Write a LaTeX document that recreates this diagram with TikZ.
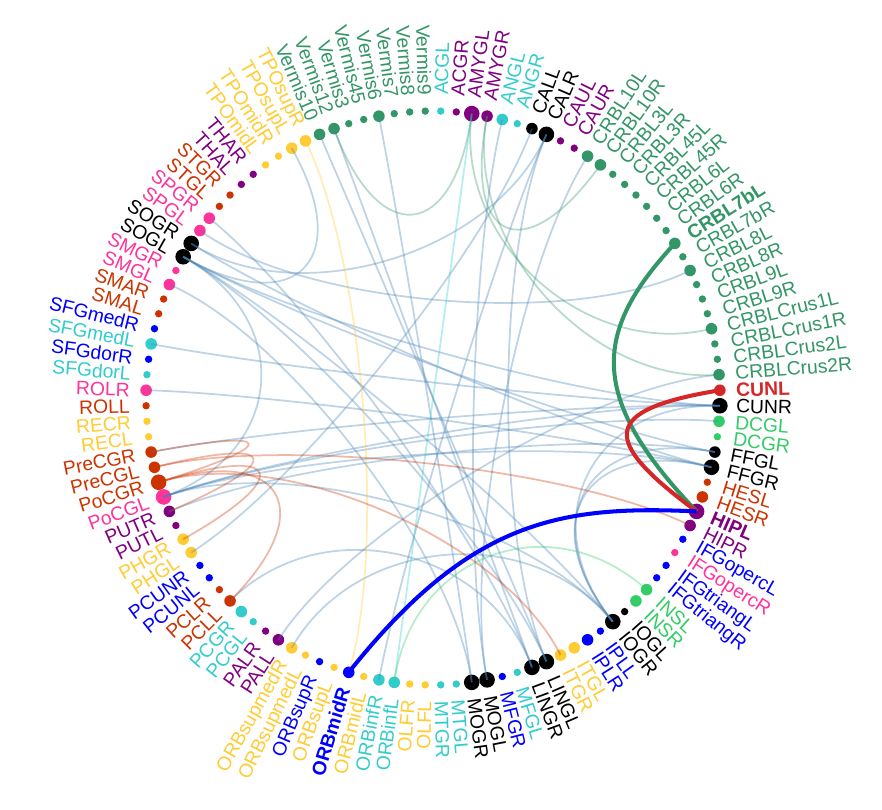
\documentclass[tikz,border=0pt]{standalone}
\usepackage{fontspec}
\setmainfont{Liberation Sans}
\usetikzlibrary{calc}

\definecolor{tq}{RGB}{51,204,204}
\definecolor{pu}{RGB}{128,0,128}
\definecolor{cg}{RGB}{51,150,102}
\definecolor{lg}{RGB}{51,204,102}
\definecolor{og}{RGB}{204,51,0}
\definecolor{pk}{RGB}{255,51,153}
\definecolor{gd}{RGB}{255,204,51}
\definecolor{bl}{RGB}{0,0,255}
\definecolor{hr}{RGB}{214,39,40}
\definecolor{eb}{RGB}{70,130,180}

\newcommand{\rr}{5.74}
\newcommand{\lr}{6.06}
\newcommand{\lnk}[3][eb]{\draw[ed=#1] (#2.center) .. controls ($(#2)!.45!(o)$) and ($(#3)!.45!(o)$) .. (#3.center);}

\begin{document}
\begin{tikzpicture}[
  dot/.style={circle,fill=#1,inner sep=0pt},
  ds/.style={minimum size=0.148cm},
  dm/.style={minimum size=0.232cm},
  dl/.style={minimum size=0.312cm},
  rl/.style={anchor=west,text=#1,inner sep=0pt,font=\fontsize{11}{13}\selectfont},
  ll/.style={anchor=east,text=#1,inner sep=0pt,font=\fontsize{11}{13}\selectfont},
  ed/.style={draw=#1,draw opacity=0.35,line width=1pt},
  hl/.style={draw=#1,line width=2.3pt}]
  \useasboundingbox (-8.66,-8.24) rectangle (8.98,7.96);
  \coordinate (o) at (0,0);
  % right half
  \node[dot=tq,ds] (ACGL) at (88.45:\rr) {}; \node[rl=tq,rotate=88.45] at (88.45:\lr) {ACGL};
  \node[dot=pu,ds] (ACGR) at (85.34:\rr) {}; \node[rl=pu,rotate=85.34] at (85.34:\lr) {ACGR};
  \node[dot=pu,dl] (AMYGL) at (82.24:\rr) {}; \node[rl=pu,rotate=82.24] at (82.24:\lr) {AMYGL};
  \node[dot=pu,dm] (AMYGR) at (79.14:\rr) {}; \node[rl=pu,rotate=79.14] at (79.14:\lr) {AMYGR};
  \node[dot=tq,dm] (ANGL) at (76.03:\rr) {}; \node[rl=tq,rotate=76.03] at (76.03:\lr) {ANGL};
  \node[dot=tq,ds] (ANGR) at (72.93:\rr) {}; \node[rl=tq,rotate=72.93] at (72.93:\lr) {ANGR};
  \node[dot=black,dm] (CALL) at (69.83:\rr) {}; \node[rl=black,rotate=69.83] at (69.83:\lr) {CALL};
  \node[dot=black,dl] (CALR) at (66.72:\rr) {}; \node[rl=black,rotate=66.72] at (66.72:\lr) {CALR};
  \node[dot=pu,ds] (CAUL) at (63.62:\rr) {}; \node[rl=pu,rotate=63.62] at (63.62:\lr) {CAUL};
  \node[dot=pu,ds] (CAUR) at (60.52:\rr) {}; \node[rl=pu,rotate=60.52] at (60.52:\lr) {CAUR};
  \node[dot=cg,dm] (CRBL10L) at (57.41:\rr) {}; \node[rl=cg,rotate=57.41] at (57.41:\lr) {CRBL10L};
  \node[dot=cg,dm] (CRBL10R) at (54.31:\rr) {}; \node[rl=cg,rotate=54.31] at (54.31:\lr) {CRBL10R};
  \node[dot=cg,ds] (CRBL3L) at (51.21:\rr) {}; \node[rl=cg,rotate=51.21] at (51.21:\lr) {CRBL3L};
  \node[dot=cg,ds] (CRBL3R) at (48.10:\rr) {}; \node[rl=cg,rotate=48.10] at (48.10:\lr) {CRBL3R};
  \node[dot=cg,ds] (CRBL45L) at (45.00:\rr) {}; \node[rl=cg,rotate=45.00] at (45.00:\lr) {CRBL45L};
  \node[dot=cg,ds] (CRBL45R) at (41.90:\rr) {}; \node[rl=cg,rotate=41.90] at (41.90:\lr) {CRBL45R};
  \node[dot=cg,ds] (CRBL6L) at (38.79:\rr) {}; \node[rl=cg,rotate=38.79] at (38.79:\lr) {CRBL6L};
  \node[dot=cg,ds] (CRBL6R) at (35.69:\rr) {}; \node[rl=cg,rotate=35.69] at (35.69:\lr) {CRBL6R};
  \node[dot=cg,dm] (CRBL7bL) at (32.59:\rr) {}; \node[rl=cg,rotate=32.59] at (32.59:\lr) {\bfseries CRBL7bL};
  \node[dot=cg,ds] (CRBL7bR) at (29.48:\rr) {}; \node[rl=cg,rotate=29.48] at (29.48:\lr) {CRBL7bR};
  \node[dot=cg,dm] (CRBL8L) at (26.38:\rr) {}; \node[rl=cg,rotate=26.38] at (26.38:\lr) {CRBL8L};
  \node[dot=cg,ds] (CRBL8R) at (23.28:\rr) {}; \node[rl=cg,rotate=23.28] at (23.28:\lr) {CRBL8R};
  \node[dot=cg,ds] (CRBL9L) at (20.17:\rr) {}; \node[rl=cg,rotate=20.17] at (20.17:\lr) {CRBL9L};
  \node[dot=cg,ds] (CRBL9R) at (17.07:\rr) {}; \node[rl=cg,rotate=17.07] at (17.07:\lr) {CRBL9R};
  \node[dot=cg,dm] (CRBLCrus1L) at (13.97:\rr) {}; \node[rl=cg,rotate=13.97] at (13.97:\lr) {CRBLCrus1L};
  \node[dot=cg,ds] (CRBLCrus1R) at (10.86:\rr) {}; \node[rl=cg,rotate=10.86] at (10.86:\lr) {CRBLCrus1R};
  \node[dot=cg,ds] (CRBLCrus2L) at (7.76:\rr) {}; \node[rl=cg,rotate=7.76] at (7.76:\lr) {CRBLCrus2L};
  \node[dot=cg,dm] (CRBLCrus2R) at (4.66:\rr) {}; \node[rl=cg,rotate=4.66] at (4.66:\lr) {CRBLCrus2R};
  \node[dot=hr,dm] (CUNL) at (1.55:\rr) {}; \node[rl=hr,rotate=1.55] at (1.55:\lr) {\bfseries CUNL};
  \node[dot=black,dl] (CUNR) at (-1.55:\rr) {}; \node[rl=black,rotate=-1.55] at (-1.55:\lr) {CUNR};
  \node[dot=lg,dm] (DCGL) at (-4.66:\rr) {}; \node[rl=lg,rotate=-4.66] at (-4.66:\lr) {DCGL};
  \node[dot=lg,ds] (DCGR) at (-7.76:\rr) {}; \node[rl=lg,rotate=-7.76] at (-7.76:\lr) {DCGR};
  \node[dot=black,dm] (FFGL) at (-10.86:\rr) {}; \node[rl=black,rotate=-10.86] at (-10.86:\lr) {FFGL};
  \node[dot=black,dl] (FFGR) at (-13.97:\rr) {}; \node[rl=black,rotate=-13.97] at (-13.97:\lr) {FFGR};
  \node[dot=og,ds] (HESL) at (-17.07:\rr) {}; \node[rl=og,rotate=-17.07] at (-17.07:\lr) {HESL};
  \node[dot=og,dm] (HESR) at (-20.17:\rr) {}; \node[rl=og,rotate=-20.17] at (-20.17:\lr) {HESR};
  \node[dot=pu,dl] (HIPL) at (-23.28:\rr) {}; \node[rl=pu,rotate=-23.28] at (-23.28:\lr) {\bfseries HIPL};
  \node[dot=pu,dm] (HIPR) at (-26.38:\rr) {}; \node[rl=pu,rotate=-26.38] at (-26.38:\lr) {HIPR};
  \node[dot=bl,ds] (IFGopercL) at (-29.48:\rr) {}; \node[rl=bl,rotate=-29.48] at (-29.48:\lr) {IFGopercL};
  \node[dot=pk,ds] (IFGopercR) at (-32.59:\rr) {}; \node[rl=pk,rotate=-32.59] at (-32.59:\lr) {IFGopercR};
  \node[dot=bl,ds] (IFGtriangL) at (-35.69:\rr) {}; \node[rl=bl,rotate=-35.69] at (-35.69:\lr) {IFGtriangL};
  \node[dot=bl,ds] (IFGtriangR) at (-38.79:\rr) {}; \node[rl=bl,rotate=-38.79] at (-38.79:\lr) {IFGtriangR};
  \node[dot=lg,dm] (INSL) at (-41.90:\rr) {}; \node[rl=lg,rotate=-41.90] at (-41.90:\lr) {INSL};
  \node[dot=lg,dm] (INSR) at (-45.00:\rr) {}; \node[rl=lg,rotate=-45.00] at (-45.00:\lr) {INSR};
  \node[dot=black,ds] (IOGL) at (-48.10:\rr) {}; \node[rl=black,rotate=-48.10] at (-48.10:\lr) {IOGL};
  \node[dot=black,dl] (IOGR) at (-51.21:\rr) {}; \node[rl=black,rotate=-51.21] at (-51.21:\lr) {IOGR};
  \node[dot=bl,ds] (IPLL) at (-54.31:\rr) {}; \node[rl=bl,rotate=-54.31] at (-54.31:\lr) {IPLL};
  \node[dot=bl,dm] (IPLR) at (-57.41:\rr) {}; \node[rl=bl,rotate=-57.41] at (-57.41:\lr) {IPLR};
  \node[dot=gd,dm] (ITGL) at (-60.52:\rr) {}; \node[rl=gd,rotate=-60.52] at (-60.52:\lr) {ITGL};
  \node[dot=gd,dm] (ITGR) at (-63.62:\rr) {}; \node[rl=gd,rotate=-63.62] at (-63.62:\lr) {ITGR};
  \node[dot=black,dl] (LINGL) at (-66.72:\rr) {}; \node[rl=black,rotate=-66.72] at (-66.72:\lr) {LINGL};
  \node[dot=black,dl] (LINGR) at (-69.83:\rr) {}; \node[rl=black,rotate=-69.83] at (-69.83:\lr) {LINGR};
  \node[dot=tq,ds] (MFGL) at (-72.93:\rr) {}; \node[rl=tq,rotate=-72.93] at (-72.93:\lr) {MFGL};
  \node[dot=bl,ds] (MFGR) at (-76.03:\rr) {}; \node[rl=bl,rotate=-76.03] at (-76.03:\lr) {MFGR};
  \node[dot=black,dl] (MOGL) at (-79.14:\rr) {}; \node[rl=black,rotate=-79.14] at (-79.14:\lr) {MOGL};
  \node[dot=black,dl] (MOGR) at (-82.24:\rr) {}; \node[rl=black,rotate=-82.24] at (-82.24:\lr) {MOGR};
  \node[dot=tq,ds] (MTGL) at (-85.34:\rr) {}; \node[rl=tq,rotate=-85.34] at (-85.34:\lr) {MTGL};
  \node[dot=tq,ds] (MTGR) at (-88.45:\rr) {}; \node[rl=tq,rotate=-88.45] at (-88.45:\lr) {MTGR};
  % left half
  \node[dot=gd,ds] (OLFL) at (-91.55:\rr) {}; \node[ll=gd,rotate=88.45] at (-91.55:\lr) {OLFL};
  \node[dot=gd,ds] (OLFR) at (-94.66:\rr) {}; \node[ll=gd,rotate=85.34] at (-94.66:\lr) {OLFR};
  \node[dot=tq,dm] (ORBinfL) at (-97.76:\rr) {}; \node[ll=tq,rotate=82.24] at (-97.76:\lr) {ORBinfL};
  \node[dot=tq,dm] (ORBinfR) at (-100.86:\rr) {}; \node[ll=tq,rotate=79.14] at (-100.86:\lr) {ORBinfR};
  \node[dot=gd,ds] (ORBmidL) at (-103.97:\rr) {}; \node[ll=gd,rotate=76.03] at (-103.97:\lr) {ORBmidL};
  \node[dot=bl,dm] (ORBmidR) at (-107.07:\rr) {}; \node[ll=bl,rotate=72.93] at (-107.07:\lr) {\bfseries ORBmidR};
  \node[dot=gd,ds] (ORBsupL) at (-110.17:\rr) {}; \node[ll=gd,rotate=69.83] at (-110.17:\lr) {ORBsupL};
  \node[dot=bl,ds] (ORBsupR) at (-113.28:\rr) {}; \node[ll=bl,rotate=66.72] at (-113.28:\lr) {ORBsupR};
  \node[dot=gd,ds] (ORBsupmedL) at (-116.38:\rr) {}; \node[ll=gd,rotate=63.62] at (-116.38:\lr) {ORBsupmedL};
  \node[dot=gd,dm] (ORBsupmedR) at (-119.48:\rr) {}; \node[ll=gd,rotate=60.52] at (-119.48:\lr) {ORBsupmedR};
  \node[dot=pu,dm] (PALL) at (-122.59:\rr) {}; \node[ll=pu,rotate=57.41] at (-122.59:\lr) {PALL};
  \node[dot=pu,ds] (PALR) at (-125.69:\rr) {}; \node[ll=pu,rotate=54.31] at (-125.69:\lr) {PALR};
  \node[dot=tq,ds] (PCGL) at (-128.79:\rr) {}; \node[ll=tq,rotate=51.21] at (-128.79:\lr) {PCGL};
  \node[dot=tq,dm] (PCGR) at (-131.90:\rr) {}; \node[ll=tq,rotate=48.10] at (-131.90:\lr) {PCGR};
  \node[dot=og,dm] (PCLL) at (-135.00:\rr) {}; \node[ll=og,rotate=45.00] at (-135.00:\lr) {PCLL};
  \node[dot=og,ds] (PCLR) at (-138.10:\rr) {}; \node[ll=og,rotate=41.90] at (-138.10:\lr) {PCLR};
  \node[dot=bl,ds] (PCUNL) at (-141.21:\rr) {}; \node[ll=bl,rotate=38.79] at (-141.21:\lr) {PCUNL};
  \node[dot=bl,ds] (PCUNR) at (-144.31:\rr) {}; \node[ll=bl,rotate=35.69] at (-144.31:\lr) {PCUNR};
  \node[dot=gd,dm] (PHGL) at (-147.41:\rr) {}; \node[ll=gd,rotate=32.59] at (-147.41:\lr) {PHGL};
  \node[dot=gd,dm] (PHGR) at (-150.52:\rr) {}; \node[ll=gd,rotate=29.48] at (-150.52:\lr) {PHGR};
  \node[dot=pu,ds] (PUTL) at (-153.62:\rr) {}; \node[ll=pu,rotate=26.38] at (-153.62:\lr) {PUTL};
  \node[dot=pu,dm] (PUTR) at (-156.72:\rr) {}; \node[ll=pu,rotate=23.28] at (-156.72:\lr) {PUTR};
  \node[dot=pk,dl] (PoCGL) at (-159.83:\rr) {}; \node[ll=pk,rotate=20.17] at (-159.83:\lr) {PoCGL};
  \node[dot=og,dl] (PoCGR) at (-162.93:\rr) {}; \node[ll=og,rotate=17.07] at (-162.93:\lr) {PoCGR};
  \node[dot=og,dm] (PreCGL) at (-166.03:\rr) {}; \node[ll=og,rotate=13.97] at (-166.03:\lr) {PreCGL};
  \node[dot=og,dm] (PreCGR) at (-169.14:\rr) {}; \node[ll=og,rotate=10.86] at (-169.14:\lr) {PreCGR};
  \node[dot=gd,ds] (RECL) at (-172.24:\rr) {}; \node[ll=gd,rotate=7.76] at (-172.24:\lr) {RECL};
  \node[dot=gd,ds] (RECR) at (-175.34:\rr) {}; \node[ll=gd,rotate=4.66] at (-175.34:\lr) {RECR};
  \node[dot=og,ds] (ROLL) at (-178.45:\rr) {}; \node[ll=og,rotate=1.55] at (-178.45:\lr) {ROLL};
  \node[dot=pk,dm] (ROLR) at (-181.55:\rr) {}; \node[ll=pk,rotate=-1.55] at (-181.55:\lr) {ROLR};
  \node[dot=tq,ds] (SFGdorL) at (-184.66:\rr) {}; \node[ll=tq,rotate=-4.66] at (-184.66:\lr) {SFGdorL};
  \node[dot=bl,ds] (SFGdorR) at (-187.76:\rr) {}; \node[ll=bl,rotate=-7.76] at (-187.76:\lr) {SFGdorR};
  \node[dot=tq,dm] (SFGmedL) at (-190.86:\rr) {}; \node[ll=tq,rotate=-10.86] at (-190.86:\lr) {SFGmedL};
  \node[dot=bl,ds] (SFGmedR) at (-193.97:\rr) {}; \node[ll=bl,rotate=-13.97] at (-193.97:\lr) {SFGmedR};
  \node[dot=og,ds] (SMAL) at (-197.07:\rr) {}; \node[ll=og,rotate=-17.07] at (-197.07:\lr) {SMAL};
  \node[dot=og,ds] (SMAR) at (-200.17:\rr) {}; \node[ll=og,rotate=-20.17] at (-200.17:\lr) {SMAR};
  \node[dot=pk,dm] (SMGL) at (-203.28:\rr) {}; \node[ll=pk,rotate=-23.28] at (-203.28:\lr) {SMGL};
  \node[dot=pk,ds] (SMGR) at (-206.38:\rr) {}; \node[ll=pk,rotate=-26.38] at (-206.38:\lr) {SMGR};
  \node[dot=black,dl] (SOGL) at (-209.48:\rr) {}; \node[ll=black,rotate=-29.48] at (-209.48:\lr) {SOGL};
  \node[dot=black,dl] (SOGR) at (-212.59:\rr) {}; \node[ll=black,rotate=-32.59] at (-212.59:\lr) {SOGR};
  \node[dot=pk,dm] (SPGL) at (-215.69:\rr) {}; \node[ll=pk,rotate=-35.69] at (-215.69:\lr) {SPGL};
  \node[dot=pk,dm] (SPGR) at (-218.79:\rr) {}; \node[ll=pk,rotate=-38.79] at (-218.79:\lr) {SPGR};
  \node[dot=og,ds] (STGL) at (-221.90:\rr) {}; \node[ll=og,rotate=-41.90] at (-221.90:\lr) {STGL};
  \node[dot=og,ds] (STGR) at (-225.00:\rr) {}; \node[ll=og,rotate=-45.00] at (-225.00:\lr) {STGR};
  \node[dot=pu,ds] (THAL) at (-228.10:\rr) {}; \node[ll=pu,rotate=-48.10] at (-228.10:\lr) {THAL};
  \node[dot=pu,ds] (THAR) at (-231.21:\rr) {}; \node[ll=pu,rotate=-51.21] at (-231.21:\lr) {THAR};
  \node[dot=gd,ds] (TPOmidL) at (-234.31:\rr) {}; \node[ll=gd,rotate=-54.31] at (-234.31:\lr) {TPOmidL};
  \node[dot=gd,ds] (TPOmidR) at (-237.41:\rr) {}; \node[ll=gd,rotate=-57.41] at (-237.41:\lr) {TPOmidR};
  \node[dot=gd,dm] (TPOsupL) at (-240.52:\rr) {}; \node[ll=gd,rotate=-60.52] at (-240.52:\lr) {TPOsupL};
  \node[dot=gd,dm] (TPOsupR) at (-243.62:\rr) {}; \node[ll=gd,rotate=-63.62] at (-243.62:\lr) {TPOsupR};
  \node[dot=cg,dm] (Vermis10) at (-246.72:\rr) {}; \node[ll=cg,rotate=-66.72] at (-246.72:\lr) {Vermis10};
  \node[dot=cg,dm] (Vermis12) at (-249.83:\rr) {}; \node[ll=cg,rotate=-69.83] at (-249.83:\lr) {Vermis12};
  \node[dot=cg,ds] (Vermis3) at (-252.93:\rr) {}; \node[ll=cg,rotate=-72.93] at (-252.93:\lr) {Vermis3};
  \node[dot=cg,ds] (Vermis45) at (-256.03:\rr) {}; \node[ll=cg,rotate=-76.03] at (-256.03:\lr) {Vermis45};
  \node[dot=cg,dm] (Vermis6) at (-259.14:\rr) {}; \node[ll=cg,rotate=-79.14] at (-259.14:\lr) {Vermis6};
  \node[dot=cg,ds] (Vermis7) at (-262.24:\rr) {}; \node[ll=cg,rotate=-82.24] at (-262.24:\lr) {Vermis7};
  \node[dot=cg,ds] (Vermis8) at (-265.34:\rr) {}; \node[ll=cg,rotate=-85.34] at (-265.34:\lr) {Vermis8};
  \node[dot=cg,ds] (Vermis9) at (-268.45:\rr) {}; \node[ll=cg,rotate=-88.45] at (-268.45:\lr) {Vermis9};
  % links
  \lnk{TPOsupL}{SOGL}
  \lnk{SOGR}{CALR}
  \lnk{SPGL}{CRBL8L}
  \lnk{SOGL}{CUNR}
  \lnk{SOGL}{FFGL}
  \lnk{SOGL}{IOGR}
  \lnk{SOGL}{LINGL}
  \lnk{SOGL}{PoCGL}
  \lnk{SOGR}{FFGR}
  \lnk{SPGR}{LINGR}
  \lnk{SMGL}{MOGR}
  \lnk{SFGmedL}{CUNR}
  \lnk{ROLR}{FFGR}
  \lnk{PoCGL}{CUNR}
  \lnk{PoCGL}{DCGL}
  \lnk{PoCGL}{FFGR}
  \lnk{PoCGL}{IOGR}
  \lnk{PUTR}{FFGL}
  \lnk{PHGL}{CALL}
  \lnk{PCLL}{LINGR}
  \lnk{PALL}{CRBLCrus2R}
  \lnk{ORBsupmedR}{IOGR}
  \lnk{ORBinfR}{CALR}
  \lnk{CALR}{LINGL}
  \lnk{ANGL}{MOGL}
  \lnk{CRBL10L}{MOGL}
  \lnk{Vermis10}{LINGL}
  \lnk{Vermis12}{LINGR}
  \lnk{Vermis6}{MOGR}
  \lnk{IOGR}{FFGR}
  \lnk{IOGR}{FFGL}
  \lnk{IOGR}{CUNR}
  \lnk{PreCGR}{CUNR}
  \lnk[cg]{Vermis12}{AMYGL}
  \lnk[cg]{AMYGL}{CRBLCrus1L}
  \lnk[cg]{AMYGR}{CRBL10R}
  \lnk[cg]{AMYGR}{CRBLCrus2R}
  \lnk[tq]{AMYGL}{ORBinfL}
  \lnk[gd]{TPOsupR}{ORBmidR}
  \lnk[lg]{INSL}{ORBinfL}
  \lnk[og]{PreCGR}{PoCGR}
  \lnk[og]{PreCGL}{PUTR}
  \lnk[og]{PoCGR}{PCLL}
  \lnk[og]{PreCGL}{HIPR}
  \lnk[og]{PoCGR}{ITGR}
  \lnk[og]{PoCGR}{PHGR}
  % highlighted links of HIPL
  \draw[hl=cg] (HIPL.center) .. controls (3.04,0.06) and (3.24,1.36) .. (CRBL7bL.center);
  \draw[hl=hr] (HIPL.center) .. controls (3.34,-0.84) and (3.34,-0.24) .. (CUNL.center);
  \draw[hl=bl] (HIPL.center) .. controls (2.54,-2.14) and (0.74,-2.44) .. (ORBmidR.center);
\end{tikzpicture}
\end{document}
